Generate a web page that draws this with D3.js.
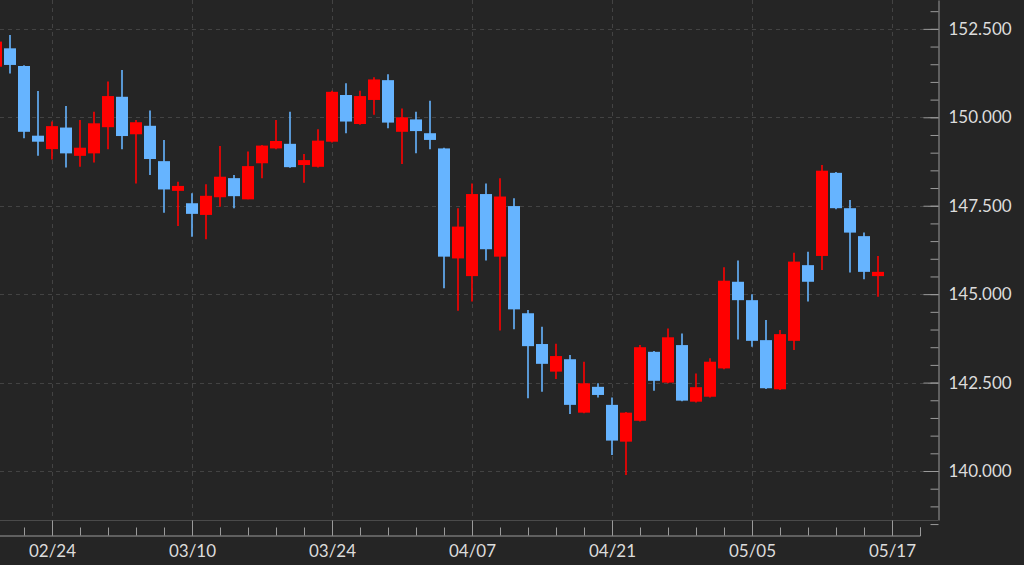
<!DOCTYPE html>
<html><head><meta charset="utf-8">
<script src="https://cdn.jsdelivr.net/npm/d3@7"></script>
<style>html,body{margin:0;padding:0;background:#252525;overflow:hidden}</style>
</head><body><svg id="c" width="1024" height="565"></svg>
<script>
const dates = ["02/18","02/19","02/20","02/21","02/24","02/25","02/26","02/27","02/28",
"03/03","03/04","03/05","03/06","03/07","03/10","03/11","03/12","03/13","03/14",
"03/17","03/18","03/19","03/20","03/21","03/24","03/25","03/26","03/27","03/28","03/31",
"04/01","04/02","04/03","04/04","04/07","04/08","04/09","04/10","04/11","04/14","04/15","04/16","04/17","04/18",
"04/21","04/22","04/23","04/24","04/25","04/28","04/29","04/30","05/01","05/02",
"05/05","05/06","05/07","05/08","05/09","05/12","05/13","05/14","05/15","05/16"];
const open  = [151.43,151.95,151.45,149.48,149.10,149.71,148.91,148.98,149.72,150.58,149.52,149.76,148.76,147.92,147.57,147.24,147.74,148.28,147.68,148.70,149.12,149.25,148.65,148.60,149.31,150.63,149.81,150.49,151.05,149.59,149.94,149.55,149.12,146.01,145.51,147.83,146.06,147.49,144.46,143.59,142.81,143.16,141.65,142.38,141.87,140.83,141.42,143.37,142.50,143.56,141.96,142.10,142.90,145.35,144.83,143.70,142.31,143.68,145.82,146.08,148.43,147.43,146.64,145.51];
const high  = [152.30,152.33,151.47,150.74,149.88,150.32,149.92,150.16,151.01,151.34,149.92,150.19,149.36,148.18,147.85,148.11,149.19,148.37,149.03,149.22,149.92,150.16,148.96,149.66,150.75,150.96,150.75,151.13,151.22,150.25,150.16,150.47,149.14,147.43,148.13,148.13,148.28,147.71,144.55,144.08,143.60,143.28,143.09,142.48,142.08,141.67,143.56,143.39,144.03,143.89,142.76,143.19,145.76,145.95,145.00,144.27,143.99,146.17,146.20,148.65,148.45,147.66,146.74,146.08];
const low   = [151.25,151.24,149.41,148.91,148.81,148.58,148.60,148.72,149.10,149.10,148.13,148.37,147.30,146.93,146.62,146.55,147.47,147.43,147.68,148.28,149.10,148.57,148.15,148.58,149.29,149.55,149.79,150.07,149.69,148.68,148.98,149.10,145.17,144.53,144.79,145.95,143.97,144.01,142.06,142.24,142.60,141.61,141.63,142.08,140.45,139.89,141.40,142.27,142.48,141.97,141.94,142.08,142.88,143.72,143.51,142.32,142.29,143.42,144.79,145.68,147.40,145.61,145.42,144.93];
const close = [152.14,151.48,149.59,149.31,149.75,148.98,149.14,149.83,150.60,149.47,149.86,148.82,147.96,148.06,147.27,147.78,148.32,147.77,148.62,149.20,149.33,148.59,148.79,149.34,150.72,149.88,150.60,151.07,149.85,150.00,149.61,149.36,146.06,146.91,147.83,146.27,147.76,144.57,143.53,143.03,143.25,141.87,142.48,142.15,140.86,141.65,143.50,142.55,143.78,141.99,142.37,143.09,145.38,144.83,143.68,142.34,143.87,145.92,145.35,148.49,147.43,146.74,145.63,145.63];
const xTickLabels = ["02/24","03/10","03/24","04/07","04/21","05/05","05/17"];
const yTickValues = [140, 142.5, 145, 147.5, 150, 152.5];

const plotW = 938, plotH = 520;
const svg = d3.select("#c");
svg.append("rect").attr("width",1024).attr("height",565).attr("fill","#252525");

const x = d3.scaleLinear().domain([0, 66]).range([-4, 920]);
const y = d3.scaleLinear().domain([138.615, 153.316]).range([520, 0]);

const firstIdx = dates.indexOf(xTickLabels[0]);
const majorK = xTickLabels.map((d,i) => firstIdx + 10*i);
const minorK = d3.range(0, 67, 2);
const minorY = d3.range(138.5, 153.6, 0.5);

svg.append("defs").append("clipPath").attr("id","clip")
  .append("rect").attr("x",0).attr("y",0).attr("width",plotW).attr("height",plotH);

// grid
const grid = svg.append("g").attr("stroke","#434343").attr("stroke-width",1).attr("stroke-dasharray","4,4");
grid.selectAll(".vg").data(majorK).join("line")
  .attr("x1",d=>Math.round(x(d))+0.5).attr("x2",d=>Math.round(x(d))+0.5)
  .attr("y1",0).attr("y2",plotH);
grid.selectAll(".hg").data(yTickValues).join("line")
  .attr("x1",0).attr("x2",plotW)
  .attr("y1",d=>Math.round(y(d))+0.5).attr("y2",d=>Math.round(y(d))+0.5);

// plot bottom border
svg.append("line").attr("x1",0).attr("x2",plotW).attr("y1",plotH+0.5).attr("y2",plotH+0.5)
  .attr("stroke","#4a4a4a");

// candles
const data = dates.map((d,i)=>({k:i,o:open[i],h:high[i],l:low[i],c:close[i]}));
const upCol = "#ff0000", dnCol = "#66b4ff";
const cg = svg.append("g").attr("clip-path","url(#clip)");
cg.selectAll(".wick").data(data).join("line")
  .attr("x1",d=>x(d.k)).attr("x2",d=>x(d.k))
  .attr("y1",d=>y(d.h)).attr("y2",d=>y(d.l))
  .attr("stroke",d=>d.c>=d.o?upCol:dnCol).attr("stroke-width",1.6);
cg.selectAll(".body").data(data).join("rect")
  .attr("x",d=>x(d.k)-6).attr("width",12)
  .attr("y",d=>y(Math.max(d.o,d.c)))
  .attr("height",d=>Math.max(2, Math.abs(y(d.o)-y(d.c))))
  .attr("fill",d=>d.c>=d.o?upCol:dnCol);

// y axis
const fmt = d3.format(".3f");
const yAxis = svg.append("g").attr("transform",`translate(${plotW+0.5},0)`)
  .call(d3.axisRight(y).tickValues(yTickValues).tickFormat(fmt).tickSizeInner(-15).tickSizeOuter(0).tickPadding(10));
svg.append("g").attr("transform",`translate(${plotW+0.5},0)`)
  .call(d3.axisRight(y).tickValues(minorY).tickFormat("").tickSizeInner(-8).tickSizeOuter(0))
  .select(".domain").remove();

// x axis
const xAxis = svg.append("g").attr("transform",`translate(0,${535.5})`)
  .call(d3.axisBottom(x).tickValues(majorK).tickFormat((d,i)=>xTickLabels[i]).tickSizeInner(-15).tickSizeOuter(-8).tickPadding(9));
svg.append("g").attr("transform",`translate(0,${535.5})`)
  .call(d3.axisBottom(x).tickValues(minorK).tickFormat("").tickSizeInner(-8).tickSizeOuter(0))
  .select(".domain").remove();

svg.selectAll(".domain, .tick line").attr("stroke","#9a9a9a");
svg.selectAll(".tick text").attr("fill","#dcdcdc").style("font-family","Lato").style("font-size","17px");
</script></body></html>
